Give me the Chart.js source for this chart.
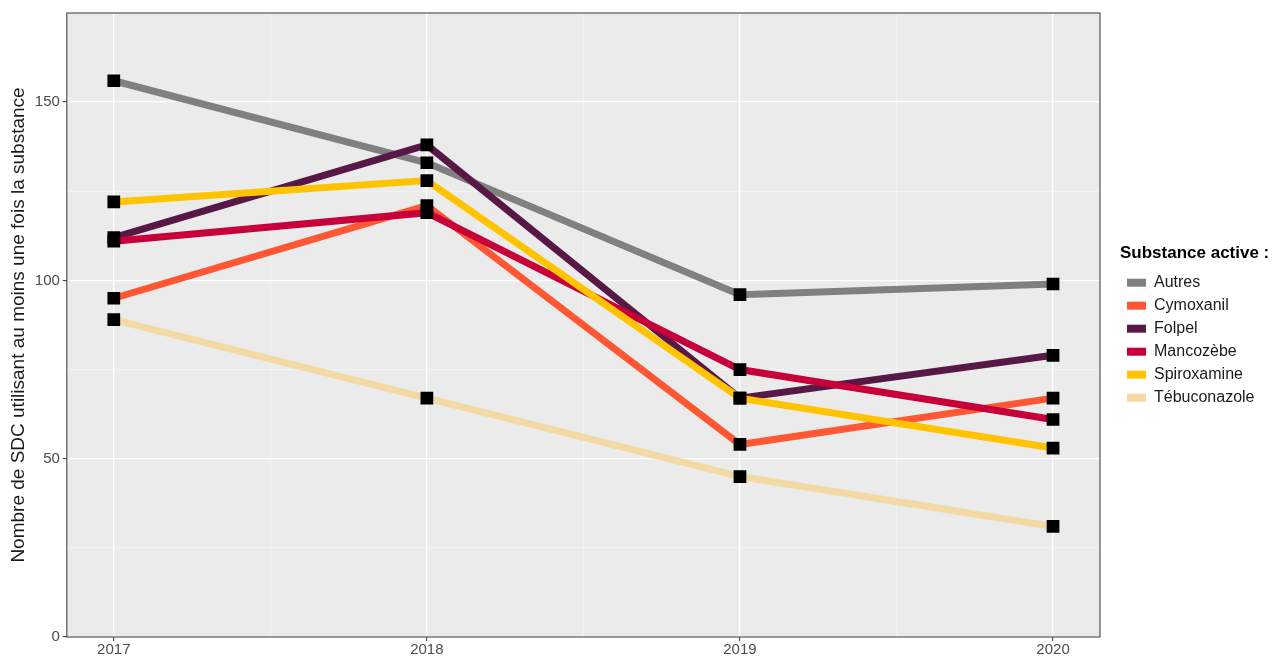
<!DOCTYPE html>
<html>
<head>
<meta charset="utf-8">
<script src="https://cdn.jsdelivr.net/npm/chart.js@4.4.1/dist/chart.umd.min.js"></script>
<style>
  html, body { margin: 0; padding: 0; background: #fff; }
  #wrap { width: 1276px; height: 659px; }
</style>
</head>
<body>
<div id="wrap"><canvas id="chart" width="1276" height="659"></canvas></div>
<script>
// data
const years = [2017, 2018, 2019, 2020];
const substances = ['Autres', 'Cymoxanil', 'Folpel', 'Mancozèbe', 'Spiroxamine', 'Tébuconazole'];
const autres = [156, 133, 96, 99];
const cymoxanil = [95, 121, 54, 67];
const folpel = [112, 138, 67, 79];
const mancozebe = [111, 119, 75, 61];
const spiroxamine = [122, 128, 67, 53];
const tebuconazole = [89, 67, 45, 31];
const colours = ['#808080', '#FF5733', '#581845', '#C70039', '#FFC300', '#F3D9A4'];
const yTicks = [0, 25, 50, 75, 100, 125, 150, 175];
const xTicks = [2017, 2017.5, 2018, 2018.5, 2019, 2019.5, 2020];

const series = [autres, cymoxanil, folpel, mancozebe, spiroxamine, tebuconazole];
const toXY = vals => vals.map((v, i) => ({ x: years[i], y: v }));

const lineSets = series.map((vals, i) => ({
    label: substances[i],
    data: toXY(vals),
    borderColor: colours[i],
    backgroundColor: colours[i],
    borderWidth: 7,
    pointRadius: 0,
    tension: 0,
    showLine: true,
    order: 10 - i
}));
// black squares sit above every line, as in the original
const pointSets = series.map((vals, i) => ({
    label: '_pts' + i,
    data: toXY(vals),
    showLine: false,
    pointStyle: 'rect',
    pointRadius: 9,
    pointBackgroundColor: '#000',
    pointBorderWidth: 0,
    order: 0
}));

const panel = {
    id: 'panel',
    beforeDraw(chart) {
        const a = chart.chartArea, c = chart.ctx;
        c.save();
        c.fillStyle = '#EBEBEB';
        c.fillRect(a.left, a.top, a.right - a.left, a.bottom - a.top);
        c.restore();
    },
    afterDraw(chart) {
        const a = chart.chartArea, c = chart.ctx;
        c.save();
        c.strokeStyle = '#333';
        c.lineWidth = 1;
        c.strokeRect(a.left, a.top, a.right - a.left, a.bottom - a.top);
        c.restore();
    }
};

const font = "'Liberation Sans', Arial, sans-serif";
const isMajorY = v => v % 50 === 0;
const isMajorX = v => Number.isInteger(v);

const chart = new Chart(document.getElementById('chart'), {
    type: 'scatter',
    data: { datasets: lineSets.concat(pointSets) },
    plugins: [panel],
    options: {
        responsive: false,
        animation: false,
        layout: { padding: { left: 5, right: 4, top: 13, bottom: 0 } },
        plugins: {
            tooltip: { enabled: false },
            legend: {
                position: 'right',
                fullSize: false,
                title: {
                    display: true,
                    position: 'start',
                    text: 'Substance active :',
                    color: '#000',
                    font: { family: font, size: 17, weight: 'bold' },
                    padding: { top: 8, bottom: 2 }
                },
                labels: {
                    font: { family: font, size: 16 },
                    color: '#1a1a1a',
                    boxWidth: 19,
                    boxHeight: 8,
                    padding: 7,
                    filter: item => !item.text.startsWith('_pts'),
                    sort: (a, b) => a.datasetIndex - b.datasetIndex,
                    generateLabels(chart) {
                        const items = Chart.defaults.plugins.legend.labels.generateLabels(chart);
                        items.forEach(it => { it.lineWidth = 0; });
                        return items;
                    }
                }
            }
        },
        scales: {
            x: {
                type: 'linear',
                min: 2016.85,
                max: 2020.15,
                afterBuildTicks: s => { s.ticks = xTicks.map(v => ({ value: v })); },
                ticks: {
                    autoSkip: false,
                    maxRotation: 0,
                    color: '#4D4D4D',
                    font: { family: font, size: 15 },
                    padding: 0,
                    callback: v => isMajorX(v) ? String(v) : ''
                },
                grid: {
                    color: c => isMajorX(c.tick.value) ? '#FFFFFF' : 'rgba(255,255,255,0.6)',
                    lineWidth: c => isMajorX(c.tick.value) ? 1.3 : 0.6,
                    tickColor: c => isMajorX(c.tick.value) ? '#333' : 'rgba(0,0,0,0)',
                    tickLength: 4,
                    tickWidth: 1
                },
                border: { display: false }
            },
            y: {
                min: 0,
                max: 175,
                afterBuildTicks: s => { s.ticks = yTicks.map(v => ({ value: v })); },
                ticks: {
                    autoSkip: false,
                    color: '#4D4D4D',
                    font: { family: font, size: 15 },
                    padding: 3,
                    callback: v => isMajorY(v) ? String(v) : ''
                },
                grid: {
                    color: c => isMajorY(c.tick.value) ? '#FFFFFF' : 'rgba(255,255,255,0.6)',
                    lineWidth: c => isMajorY(c.tick.value) ? 1.3 : 0.6,
                    tickColor: c => isMajorY(c.tick.value) ? '#333' : 'rgba(0,0,0,0)',
                    tickLength: 4,
                    tickWidth: 1
                },
                border: { display: false },
                title: {
                    display: true,
                    text: 'Nombre de SDC utilisant au moins une fois la substance',
                    color: '#1a1a1a',
                    font: { family: font, size: 19 },
                    padding: { top: 2, bottom: 2 }
                }
            },
            // empty spacer between the panel and the legend
            gap: {
                position: 'right',
                display: true,
                ticks: { display: false },
                grid: { display: false },
                border: { display: false },
                afterFit: s => { s.width = 20; }
            }
        }
    }
});

// legend box is clipped to its width, so leave room for the bold title
const legend = chart.legend;
const fitLegend = legend.fit;
legend.fit = function () {
    fitLegend.call(this);
    this.width = Math.max(this.width, 152);
};
chart.update();
</script>
</body>
</html>
